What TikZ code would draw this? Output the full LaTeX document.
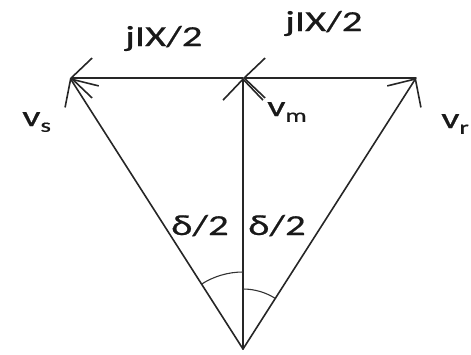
\documentclass[tikz,border=0pt]{standalone}
\usepackage{fontspec}
\setmainfont{Carlito}[FakeStretch=1.4,FakeBold=0.6]
\usetikzlibrary{arrows.meta}
\begin{document}
\begin{tikzpicture}[x=1pt,y=-1pt,
  vec/.style={line width=1.6pt,draw=black!85,line cap=round,-{Straight Barb[length=21pt,width=40pt,line width=1.6pt]}},
  arcline/.style={line width=1.1pt,draw=black!80},
  lbl/.style={inner sep=0pt,anchor=base west,font=\fontsize{29}{30}\selectfont,text=black!90}]
\useasboundingbox (0,0) rectangle (471,354);
\coordinate (O) at (243,349);
\coordinate (S) at (70,78);
\coordinate (M) at (243,78);
\coordinate (R) at (416,78);
\draw[vec] (O) -- (S);
\draw[vec] (O) -- (M);
\draw[vec] (O) -- (R);
\draw[vec] (R) -- (M);
\draw[vec] (M) -- (S);
% angle arcs (y axis is flipped, so angles are measured clockwise)
\draw[arcline] (O) ++(-122.5:77) arc[start angle=-122.5,end angle=-90,radius=77];
\draw[arcline] (O) ++(-90:60) arc[start angle=-90,end angle=-57.5,radius=60];
\node[lbl] (t1) at (125,46) {jIX/2};
\node[lbl] (t2) at (285,31) {jIX/2};
\node[lbl] (d1) at (171,235) {δ/2};
\node[lbl] (d2) at (248,235) {δ/2};
\node[lbl] (vs) at (22,126) {v\raisebox{-0.2em}{\fontsize{19}{19}\selectfont s}};
\node[lbl] (vm) at (267,116) {v\raisebox{-0.2em}{\fontsize{19}{19}\selectfont m}};
\node[lbl] (vr) at (441,128) {v\raisebox{-0.2em}{\fontsize{19}{19}\selectfont r}};
\end{tikzpicture}
\end{document}
